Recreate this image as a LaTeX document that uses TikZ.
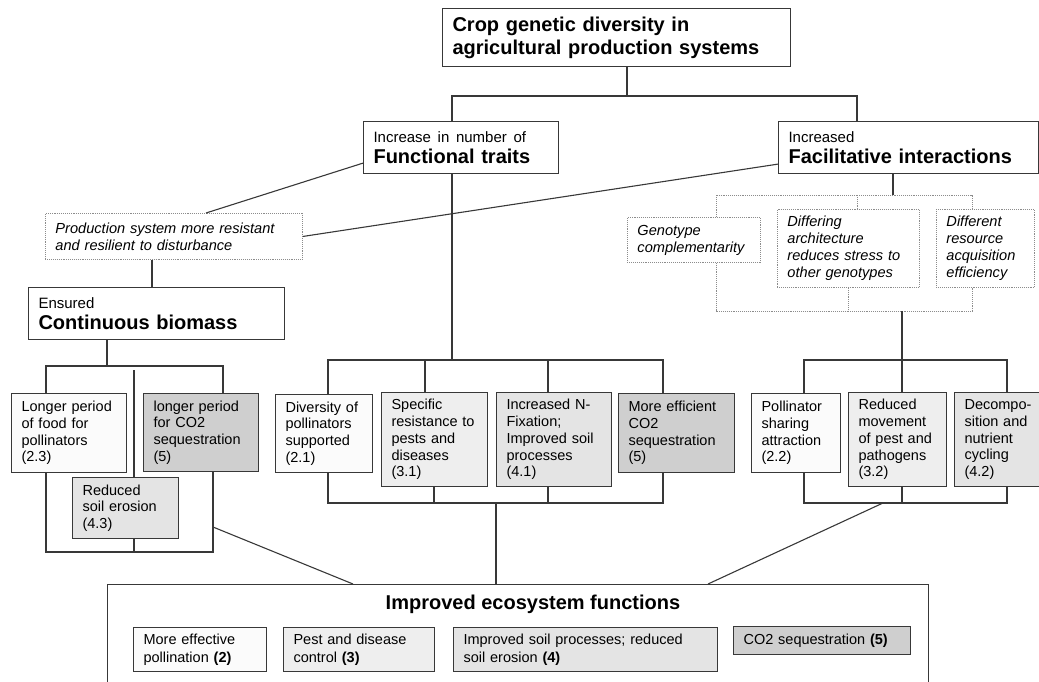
\documentclass[tikz,border=0pt]{standalone}
\usepackage{fontspec}
\setmainfont{Liberation Sans}
\usepackage{tikz}
\usetikzlibrary{calc,positioning}

\definecolor{polfill}{gray}{0.985}
\definecolor{pestfill}{gray}{0.935}
\definecolor{soilfill}{gray}{0.895}
\definecolor{carbfill}{gray}{0.81}
\definecolor{edgegray}{gray}{0.22}
\definecolor{dotgray}{gray}{0.55}

\begin{document}
\begin{tikzpicture}[x=1pt, y=-1pt,
	box/.style={draw=edgegray, line width=1.1pt, anchor=north west, align=left, inner xsep=10pt, inner ysep=2pt, font=\fontsize{14.5pt}{16.7pt}\selectfont},
	title/.style={font=\bfseries\fontsize{20pt}{21pt}\selectfont},
	mech/.style={draw=dotgray, densely dotted, line width=0.9pt, anchor=north west, align=left, inner xsep=10pt, inner ysep=2pt, font=\itshape\fontsize{14.6pt}{17pt}\selectfont},
	service/.style={box, font=\fontsize{14.5pt}{17.5pt}\selectfont},
	link/.style={draw=edgegray, line width=1.1pt},
	dotlink/.style={draw=dotgray, densely dotted, line width=0.9pt}]
			
	\useasboundingbox (0,0) rectangle (1039,681);
	\clip (0,0) rectangle (1039,681);
			
	\node[box, title, font=\bfseries\fontsize{20pt}{23pt}\selectfont, text width=328pt, minimum height=58pt] (crop) at (442,8) {Crop genetic diversity in\\agricultural production systems};
	\node[box, title, text width=175pt, minimum height=52pt] (func) at (363,121) {{\mdseries\fontsize{15pt}{18pt}\selectfont Increase in number of}\\Functional traits};
	\node[box, title, text width=240pt, minimum height=52pt] (facil) at (778,121) {{\mdseries\fontsize{15pt}{18pt}\selectfont Increased}\\Facilitative interactions};
			
	\node[mech, text width=237pt, minimum height=46pt] (prod) at (45,213) {Production system more resistant\\and resilient to disturbance};
	\node[mech, text width=113pt, minimum height=45pt] (geno) at (627,217) {Genotype\\complementarity};
	\node[mech, text width=122pt, minimum height=78pt] (arch) at (777,209) {Differing\\architecture\\reduces stress to\\other genotypes};
	\node[mech, text width=78pt, minimum height=78pt] (resource) at (936,209) {Different\\resource\\acquisition\\efficiency};
			
	\node[box, title, text width=236pt, minimum height=52pt] (cont) at (28,287) {{\mdseries\fontsize{15pt}{18pt}\selectfont Ensured}\\Continuous biomass};
			
	\node[box, fill=polfill, text width=95pt, minimum height=79pt] (food) at (11,393) {Longer period\\of food for\\pollinators\\(2.3)};
	\node[box, fill=carbfill, text width=95pt, minimum height=78pt] (seqlong) at (143,393) {longer period\\for CO2\\sequestration\\(5)};
	\node[box, fill=soilfill, text width=86pt, minimum height=61pt] (erosion) at (72,477) {Reduced\\soil erosion\\(4.3)};
			
	\node[box, fill=polfill, text width=77pt, minimum height=78pt] (divpoll) at (275,394) {Diversity of\\pollinators\\supported\\(2.1)};
	\node[box, fill=pestfill, text width=86pt, minimum height=94pt] (resist) at (381,392) {Specific\\resistance to\\pests and\\diseases\\(3.1)};
	\node[box, fill=soilfill, text width=95pt, minimum height=94pt] (nfix) at (496,392) {Increased N-\\Fixation;\\Improved soil\\processes\\(4.1)};
	\node[box, fill=carbfill, text width=96pt, minimum height=79pt] (co2eff) at (618,393) {More efficient\\CO2\\sequestration\\(5)};
			
	\node[box, fill=polfill, text width=69pt, minimum height=79pt] (pollshare) at (751,393) {Pollinator\\sharing\\attraction\\(2.2)};
	\node[box, fill=pestfill, text width=78pt, minimum height=94pt] (movement) at (848,392) {Reduced\\movement\\of pest and\\pathogens\\(3.2)};
	\node[box, fill=soilfill, text width=75pt, minimum height=94pt] (decomp) at (954,392) {Decompo-\\sition and\\nutrient\\cycling\\(4.2)};
			
	\node[box, minimum width=821pt, minimum height=130pt, inner sep=0pt] (eco) at (107,584) {};
	\node[title] (ecotitle) at (533,604) {Improved ecosystem functions};
	\node[service, fill=polfill, text width=113pt, minimum height=44pt] (effpoll) at (133,627) {More effective\\pollination \textbf{(2)}};
	\node[service, fill=pestfill, text width=131pt, minimum height=44pt] (pest) at (283,627) {Pest and disease\\control \textbf{(3)}};
	\node[service, fill=soilfill, text width=244pt, minimum height=44pt] (soil) at (453,627) {Improved soil processes; reduced\\soil erosion \textbf{(4)}};
	\node[service, fill=carbfill, text width=157pt, minimum height=28pt] (co2seq) at (733,626) {CO2 sequestration \textbf{(5)}};
			
	\coordinate (tA) at (452,96);
	\coordinate (tB) at (627,96);
	\coordinate (tC) at (857,96);
	\draw[link] (crop.south -| tB) -- (tB);
	\draw[link] (func.north -| tA) -- (tA) -- (tC) -- (facil.north -| tC);
			
	\coordinate (pA) at (206,213);
	\coordinate (pC) at (152,270);
	\draw[link] ($(func.south west)+(0,-11)$) -- (prod.north -| pA);
	\draw[link] ($(facil.south west)+(0,-10)$) -- (prod.east);
	\draw[link] (prod.south -| pC) -- (cont.north -| pC);
			
	\coordinate (lT) at (107,366);
	\coordinate (lA) at (46,366);
	\coordinate (lB) at (223,366);
	\coordinate (lM) at (134,370);
	\coordinate (lN) at (134,552);
	\coordinate (lC) at (46,552);
	\coordinate (lD) at (213,552);
	\coordinate (lE) at (213,527);
	\coordinate (gL) at (353,584);
	\draw[link] (cont.south -| lT) -- (lT);
	\draw[link] (food.north -| lA) -- (lA) -- (lB) -- (seqlong.north -| lB);
	\draw[link] (lM) -- (erosion.north -| lM);
	\draw[link] (erosion.south -| lN) -- (lN);
	\draw[link] (food.south -| lC) -- (lC) -- (lD) -- (seqlong.south -| lD);
	\draw[link] (lE) -- (eco.north -| gL);
			
	\coordinate (mF) at (452,360);
	\coordinate (mA) at (328,360);
	\coordinate (mB) at (425,360);
	\coordinate (mC) at (548,360);
	\coordinate (mD) at (663,360);
	\draw[link] (func.south -| mF) -- (mF);
	\draw[link] (divpoll.north -| mA) -- (mA) -- (mD) -- (co2eff.north -| mD);
	\draw[link] (mB) -- (resist.north -| mB);
	\draw[link] (mC) -- (nfix.north -| mC);
			
	\coordinate (nA) at (328,503);
	\coordinate (nB) at (434,503);
	\coordinate (nC) at (548,503);
	\coordinate (nD) at (663,503);
	\coordinate (nE) at (496,503);
	\draw[link] (divpoll.south -| nA) -- (nA) -- (nD) -- (co2eff.south -| nD);
	\draw[link] (resist.south -| nB) -- (nB);
	\draw[link] (nfix.south -| nC) -- (nC);
	\draw[link] (nE) -- (eco.north -| nE);
			
	\coordinate (fA) at (893,195);
	\coordinate (dA) at (716,195);
	\coordinate (dB) at (857,195);
	\coordinate (dC) at (972,195);
	\draw[link] (facil.south -| fA) -- (fA);
	\draw[dotlink] (geno.north -| dA) -- (dA) -- (dC) -- (resource.north -| dC);
	\draw[dotlink] (dB) -- (arch.north -| dB);
			
	\coordinate (eA) at (716,311);
	\coordinate (eB) at (848,311);
	\coordinate (eC) at (972,311);
	\coordinate (eD) at (902,311);
	\draw[dotlink] (geno.south -| eA) -- (eA) -- (eC) -- (resource.south -| eC);
	\draw[dotlink] (arch.south -| eB) -- (eB);
			
	\coordinate (rA) at (804,360);
	\coordinate (rB) at (902,360);
	\coordinate (rC) at (1007,360);
	\draw[link] (eD) -- (rB);
	\draw[link] (pollshare.north -| rA) -- (rA) -- (rC) -- (decomp.north -| rC);
	\draw[link] (rB) -- (movement.north -| rB);
			
	\coordinate (sA) at (804,503);
	\coordinate (sB) at (902,503);
	\coordinate (sC) at (1007,503);
	\coordinate (sD) at (883,503);
	\coordinate (gR) at (708,584);
	\draw[link] (pollshare.south -| sA) -- (sA) -- (sC) -- (decomp.south -| sC);
	\draw[link] (movement.south -| sB) -- (sB);
	\draw[link] (sD) -- (eco.north -| gR);
		\end{tikzpicture}
\end{document}
